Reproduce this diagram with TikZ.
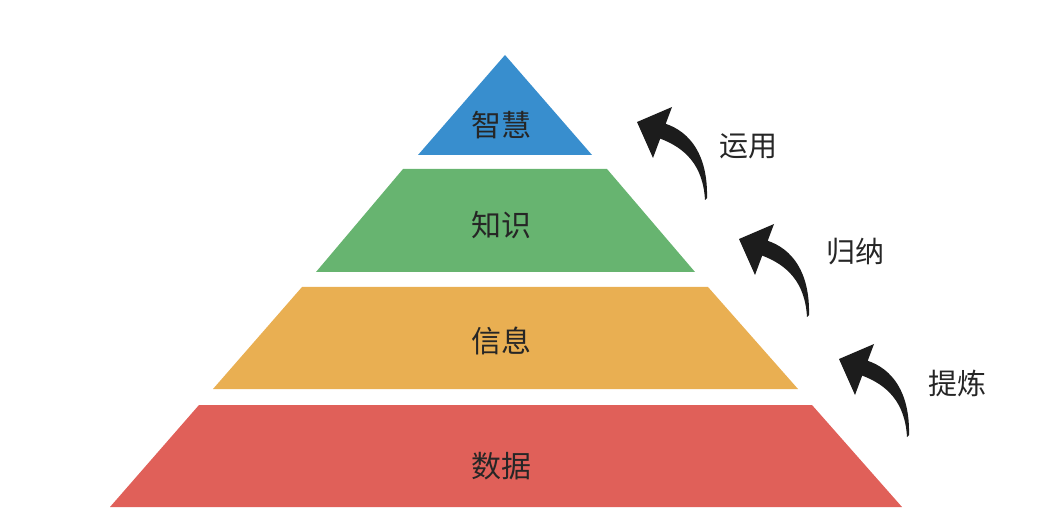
\documentclass[tikz,border=0pt]{standalone}
\usepackage{fontspec}
\newfontfamily\cjk{Noto Sans CJK SC}
\definecolor{cblue}{RGB}{56,142,206}
\definecolor{cgreen}{RGB}{103,180,112}
\definecolor{corange}{RGB}{233,175,82}
\definecolor{cred}{RGB}{224,96,89}
\definecolor{carrow}{RGB}{28,28,28}
\tikzset{
  layertext/.style={font=\cjk\fontsize{30}{30}\selectfont, text=black!85, inner sep=0pt},
  sidetext/.style={font=\cjk\fontsize{29}{29}\selectfont, text=black!85, inner sep=0pt},
  pics/curvearrow/.style={code={
    \fill[carrow] (0,0) .. controls (-2,35) and (-20,52) .. (-44.8,61.4)
      -- (-52,42) -- (-68,78) -- (-33,93) -- (-39.3,76.2)
      .. controls (-15,68) and (3,45) .. (2,2) -- cycle;
  }}
}
\begin{document}
\begin{tikzpicture}[x=1pt,y=1pt]
\useasboundingbox (0,0) rectangle (1055,-529);
% layers
\fill[cred] (110,-507) -- (199,-405) -- (812,-405) -- (902,-507) -- cycle;
\fill[corange] (213,-389) -- (302,-287) -- (708,-287) -- (798,-389) -- cycle;
\fill[cgreen] (316,-272) -- (403,-169) -- (607,-169) -- (695,-272) -- cycle;
\fill[cblue] (418,-155) -- (505,-55) -- (592,-155) -- cycle;
% layer labels
\node[layertext] (zh) at (501,-125) {智慧};
\node[layertext] (zs) at (501,-225) {知识};
\node[layertext] (xx) at (501,-341) {信息};
\node[layertext] (sj) at (501,-466) {数据};
% arrows
\pic at (705,-200) {curvearrow};
\pic at (807,-317) {curvearrow};
\pic at (907,-437) {curvearrow};
% side labels
\node[sidetext] (yy) at (748,-146) {运用};
\node[sidetext] (gn) at (855,-252) {归纳};
\node[sidetext] (tl) at (957,-383) {提炼};
\end{tikzpicture}
\end{document}
